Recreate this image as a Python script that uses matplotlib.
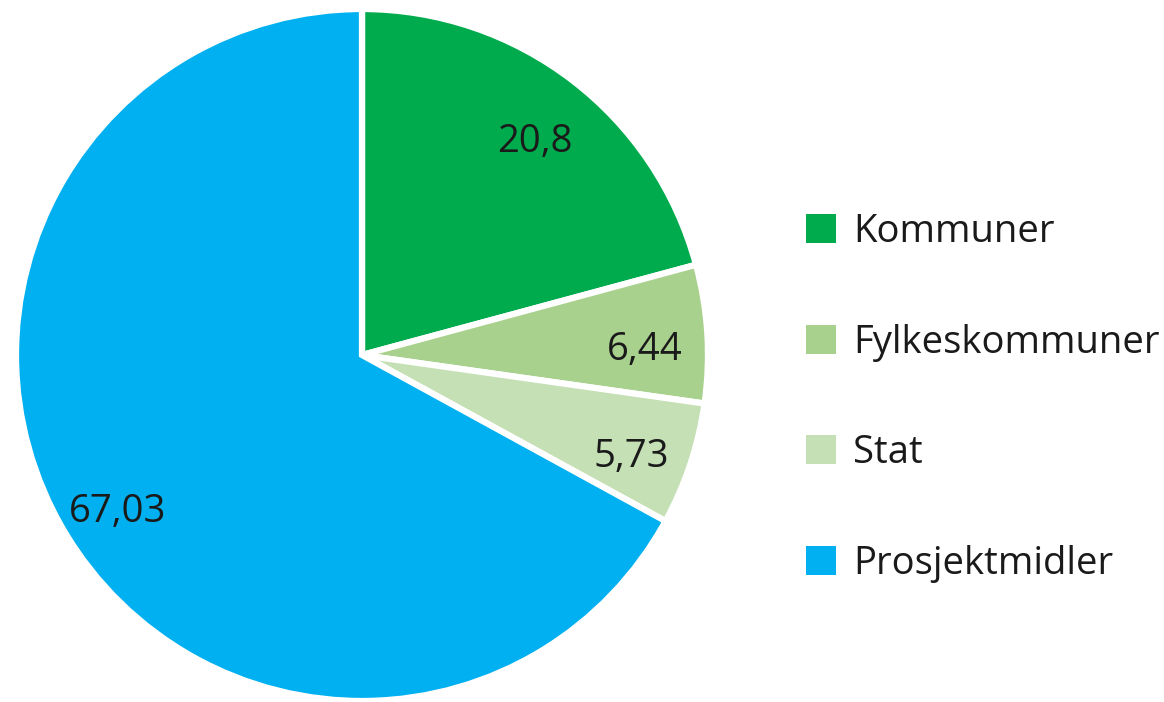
import numpy as np
import matplotlib.pyplot as plt
from matplotlib.patches import Patch

categories = ['Kommuner', 'Fylkeskommuner', 'Stat', 'Prosjektmidler']
values = [20.8, 6.44, 5.73, 67.03]
value_labels = ['20,8', '6,44', '5,73', '67,03']
colors = ['#00AB4E', '#A9D18E', '#C5E0B4', '#00B0F0']

plt.rcParams['font.family'] = ['Open Sans', 'DejaVu Sans']

W, H = 1164, 702
fig = plt.figure(figsize=(W / 100, H / 100), dpi=100)

# pie centre and radius in pixels
cx, cy, r = 362, 355, 346
ax = fig.add_axes([(cx - r) / W, (H - cy - r) / H, 2 * r / W, 2 * r / H])

wedges, _ = ax.pie(values, colors=colors, startangle=90, counterclock=False,
                   radius=1, wedgeprops=dict(edgecolor='white', linewidth=4.5))
ax.set_xlim(-1, 1)
ax.set_ylim(-1, 1)
ax.set_aspect('equal')
ax.axis('off')

# value labels inside the slices (a bit below the mid-angle point, like excel does)
for w, txt in zip(wedges, value_labels):
    ang = np.deg2rad((w.theta1 + w.theta2) / 2)
    ax.annotate(txt, (0.82 * np.cos(ang), 0.82 * np.sin(ang)), xytext=(0, -9),
                textcoords='offset points', ha='center', va='center',
                fontsize=27.5, color='#1a1a1a')

handles = [Patch(facecolor=c, edgecolor='none') for c in colors]
fig.legend(handles, categories, loc='upper left', bbox_to_anchor=(806 / W, 1 - 213 / H),
           frameon=False, fontsize=27.5, handlelength=0.79, handleheight=0.79,
           handletextpad=0.45, labelspacing=1.9, borderpad=0, borderaxespad=0,
           labelcolor='#1a1a1a')

fig.savefig('out.png', dpi=100)
